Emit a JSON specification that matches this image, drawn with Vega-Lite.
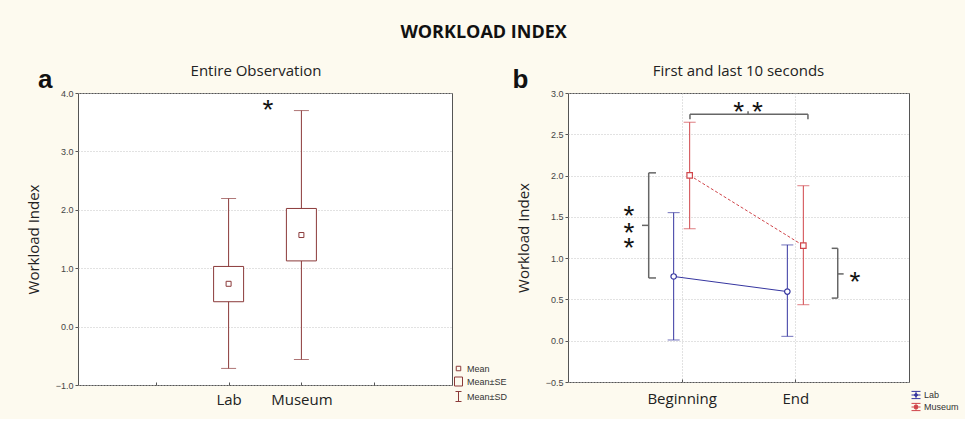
{
  "$schema": "https://vega.github.io/schema/vega-lite/v6.json",
  "background": "#fdfaef",
  "padding": {"left": 25, "top": 24, "right": 5, "bottom": 5},
  "title": {"text": "WORKLOAD INDEX", "font": "Open Sans", "fontSize": 18, "fontWeight": "bold", "color": "#111", "anchor": "middle", "offset": 21, "dx": -9},
  "bounds": "flush",
  "spacing": 116,
  "resolve": {"scale": {"x": "independent", "y": "independent", "color": "independent", "shape": "independent"}, "legend": {"color": "independent", "shape": "independent"}},
  "config": {
    "view": {"fill": "white", "stroke": "#555", "strokeWidth": 1},
    "title": {"font": "Open Sans", "fontSize": 15, "fontWeight": "normal", "color": "#222"},
    "axis": {"labelFont": "Liberation Sans", "labelFontSize": 9, "labelColor": "#444", "labelOverlap": false, "titleFont": "Open Sans", "titleFontSize": 15, "titleFontWeight": "normal", "titleColor": "#222", "domain": false, "tickColor": "#555", "gridColor": "#c4c4c4", "gridDash": [1, 2]}
  },
  "hconcat": [
    {
      "width": 374,
      "height": 292,
      "title": {"text": "Entire Observation", "anchor": "middle", "offset": -12, "dx": -9},
      "data": {"values": [
        {"group": "Lab", "pos": 2, "mean": 0.733, "seLo": 0.426, "seHi": 1.03, "sdLo": -0.716, "sdHi": 2.193},
        {"group": "Museum", "pos": 3, "mean": 1.568, "seLo": 1.125, "seHi": 2.023, "sdLo": -0.563, "sdHi": 3.699}
      ]},
      "layer": [
        {
          "mark": {"type": "rule", "color": "#8b3a3a", "strokeWidth": 1},
          "encoding": {
            "x": {"field": "pos", "type": "quantitative", "scale": {"domain": [0, 5], "nice": false},
                  "axis": {"values": [1, 2, 3, 4], "labelExpr": "datum.value == 2 ? 'Lab' : datum.value == 3 ? 'Museum' : ''", "labelFont": "Open Sans", "labelFontSize": 15, "labelColor": "#222", "title": null, "grid": false, "tickSize": -3, "labelPadding": 10}},
            "y": {"field": "sdLo", "type": "quantitative", "scale": {"domain": [-1, 4], "nice": false},
                  "axis": {"values": [-1, -0.5, 0, 0.5, 1, 1.5, 2, 2.5, 3, 3.5, 4], "format": ".1f", "labelOverlap": false, "title": "Workload Index", "grid": true, "tickSize": 3, "labelPadding": 2, "titlePadding": 14}},
            "y2": {"field": "sdHi"}
          }
        },
        {
          "mark": {"type": "tick", "orient": "horizontal", "size": 15, "thickness": 1, "color": "#8b3a3a"},
          "encoding": {"x": {"field": "pos", "type": "quantitative"}, "y": {"field": "sdHi", "type": "quantitative"}}
        },
        {
          "mark": {"type": "tick", "orient": "horizontal", "size": 15, "thickness": 1, "color": "#8b3a3a"},
          "encoding": {"x": {"field": "pos", "type": "quantitative"}, "y": {"field": "sdLo", "type": "quantitative"}}
        },
        {
          "mark": {"type": "bar", "width": 30, "fill": "white", "stroke": "#8b3a3a", "strokeWidth": 1},
          "encoding": {"x": {"field": "pos", "type": "quantitative"}, "y": {"field": "seLo", "type": "quantitative"}, "y2": {"field": "seHi"}}
        },
        {
          "mark": {"type": "point", "filled": false, "color": "#8b3a3a", "strokeWidth": 1, "size": 123, "opacity": 1},
          "encoding": {
            "x": {"field": "pos", "type": "quantitative"},
            "y": {"field": "mean", "type": "quantitative"},
            "shape": {"datum": "Mean", "type": "nominal",
                      "scale": {"domain": ["Mean", "Mean±SE", "Mean±SD"], "range": ["M-0.45,-0.45H0.45V0.45H-0.45Z", "M-0.8,-0.9H0.8V0.9H-0.8Z", "M0,-1V1M-0.6,-1H0.6M-0.6,1H0.6"]},
                      "legend": {"orient": "none", "legendX": 375, "legendY": 270, "title": null, "symbolSize": 100, "symbolStrokeColor": "#8b3a3a", "symbolStrokeWidth": 1, "labelFont": "Liberation Sans", "labelFontSize": 9, "labelColor": "#333", "rowPadding": 1, "labelOffset": 3}}
          }
        },
        {
          "data": {"values": [{"label": "*", "x": 2.54, "y": 3.55}]},
          "mark": {"type": "text", "font": "Liberation Sans", "fontSize": 28, "baseline": "alphabetic", "align": "center", "color": "#111"},
          "encoding": {
            "x": {"field": "x", "type": "quantitative"},
            "y": {"field": "y", "type": "quantitative"},
            "text": {"field": "label"}
          }
        },
        {
          "data": {"values": [{"label": "a", "x": -0.52, "y": 4.086}]},
          "mark": {"type": "text", "font": "Liberation Sans", "fontSize": 26, "fontWeight": "bold", "baseline": "alphabetic", "align": "center", "color": "#111"},
          "encoding": {
            "x": {"field": "x", "type": "quantitative"},
            "y": {"field": "y", "type": "quantitative"},
            "text": {"field": "label"}
          }
        }
      ]
    },
    {
      "width": 341,
      "height": 289,
      "title": {"text": "First and last 10 seconds", "anchor": "middle", "offset": -12},
      "layer": [
        {
          "data": {"values": [
            {"group": "Lab", "phase": "Beginning", "t": 1, "mean": 0.778, "sdLo": 0.009, "sdHi": 1.551},
            {"group": "Lab", "phase": "End", "t": 2, "mean": 0.595, "sdLo": 0.053, "sdHi": 1.16},
            {"group": "Museum", "phase": "Beginning", "t": 1, "mean": 2.003, "sdLo": 1.356, "sdHi": 2.646},
            {"group": "Museum", "phase": "End", "t": 2, "mean": 1.152, "sdLo": 0.436, "sdHi": 1.877}
          ]},
          "layer": [
            {
              "transform": [{"filter": "datum.group === 'Lab'"}],
              "layer": [
                {
                  "mark": {"type": "line", "strokeWidth": 1, "xOffset": -8},
                  "encoding": {
                    "x": {"field": "t", "type": "quantitative", "scale": {"domain": [0, 3], "nice": false},
                          "axis": {"values": [1, 2], "labelExpr": "datum.value == 1 ? 'Beginning' : 'End'", "labelFont": "Open Sans", "labelFontSize": 15, "labelColor": "#222", "title": null, "grid": true, "tickSize": -3, "labelPadding": 12}},
                    "y": {"field": "mean", "type": "quantitative", "scale": {"domain": [-0.5, 3], "nice": false},
                          "axis": {"values": [-0.5, 0, 0.5, 1, 1.5, 2, 2.5, 3], "format": ".1f", "labelOverlap": false, "title": "Workload Index", "grid": true, "tickSize": 3, "labelPadding": 2, "titlePadding": 14}},
                    "color": {"field": "group", "type": "nominal", "scale": {"domain": ["Lab", "Museum"], "range": ["#3636a0", "#d0454a"]},
                              "legend": {"orient": "none", "legendX": 343, "legendY": 297, "title": null, "symbolSize": 81, "symbolStrokeWidth": 1, "labelFont": "Liberation Sans", "labelFontSize": 9, "labelColor": "#333", "rowPadding": 0, "labelOffset": 3,
                                         "encode": {"symbols": {"update": {"shape": {"signal": "datum.value === 'Lab' ? 'M-1,-0.8H1M-1,0.8H1M0,-0.8V-0.35M0,0.35V0.8M-1,0H-0.35M0.35,0H1M-0.35,0A0.35,0.35 0 1,1 0.35,0A0.35,0.35 0 1,1 -0.35,0' : 'M-1,-0.8H1M-1,0.8H1M0,-0.8V-0.35M0,0.35V0.8M-1,0H-0.35M0.35,0H1M-0.35,-0.35H0.35V0.35H-0.35Z'"}, "fill": {"value": "transparent"}}}}}}
                  }
                },
                {
                  "mark": {"type": "rule", "strokeWidth": 1, "xOffset": -8},
                  "encoding": {"x": {"field": "t", "type": "quantitative"}, "y": {"field": "sdLo", "type": "quantitative"}, "y2": {"field": "sdHi"}, "color": {"field": "group", "type": "nominal"}}
                },
                {
                  "mark": {"type": "tick", "orient": "horizontal", "size": 12, "thickness": 1, "xOffset": -8},
                  "encoding": {"x": {"field": "t", "type": "quantitative"}, "y": {"field": "sdHi", "type": "quantitative"}, "color": {"field": "group", "type": "nominal"}}
                },
                {
                  "mark": {"type": "tick", "orient": "horizontal", "size": 12, "thickness": 1, "xOffset": -8},
                  "encoding": {"x": {"field": "t", "type": "quantitative"}, "y": {"field": "sdLo", "type": "quantitative"}, "color": {"field": "group", "type": "nominal"}}
                },
                {
                  "mark": {"type": "point", "shape": "circle", "filled": false, "fill": "white", "strokeWidth": 1.2, "size": 30, "opacity": 1, "xOffset": -8},
                  "encoding": {"x": {"field": "t", "type": "quantitative"}, "y": {"field": "mean", "type": "quantitative"}, "color": {"field": "group", "type": "nominal"}}
                }
              ]
            },
            {
              "transform": [{"filter": "datum.group === 'Museum'"}],
              "layer": [
                {
                  "mark": {"type": "line", "strokeWidth": 1, "strokeDash": [3, 2], "xOffset": 8},
                  "encoding": {"x": {"field": "t", "type": "quantitative"}, "y": {"field": "mean", "type": "quantitative"}, "color": {"field": "group", "type": "nominal"}}
                },
                {
                  "mark": {"type": "rule", "strokeWidth": 1, "xOffset": 8},
                  "encoding": {"x": {"field": "t", "type": "quantitative"}, "y": {"field": "sdLo", "type": "quantitative"}, "y2": {"field": "sdHi"}, "color": {"field": "group", "type": "nominal"}}
                },
                {
                  "mark": {"type": "tick", "orient": "horizontal", "size": 12, "thickness": 1, "xOffset": 8},
                  "encoding": {"x": {"field": "t", "type": "quantitative"}, "y": {"field": "sdHi", "type": "quantitative"}, "color": {"field": "group", "type": "nominal"}}
                },
                {
                  "mark": {"type": "tick", "orient": "horizontal", "size": 12, "thickness": 1, "xOffset": 8},
                  "encoding": {"x": {"field": "t", "type": "quantitative"}, "y": {"field": "sdLo", "type": "quantitative"}, "color": {"field": "group", "type": "nominal"}}
                },
                {
                  "mark": {"type": "point", "shape": "square", "filled": false, "fill": "white", "strokeWidth": 1.2, "size": 30, "opacity": 1, "xOffset": 8},
                  "encoding": {"x": {"field": "t", "type": "quantitative"}, "y": {"field": "mean", "type": "quantitative"}, "color": {"field": "group", "type": "nominal"}}
                }
              ]
            }
          ]
        },
        {
          "data": {"values": [
            {"x": 1.073, "y": 2.682, "x2": 1.073, "y2": 2.743},
            {"x": 1.073, "y": 2.743, "x2": 2.111, "y2": 2.743},
            {"x": 2.111, "y": 2.743, "x2": 2.111, "y2": 2.682},
            {"x": 1.584, "y": 2.743, "x2": 1.584, "y2": 2.78},
            {"x": 0.774, "y": 2.033, "x2": 0.71, "y2": 2.033},
            {"x": 0.71, "y": 2.033, "x2": 0.71, "y2": 0.76},
            {"x": 0.71, "y": 0.76, "x2": 0.774, "y2": 0.76},
            {"x": 0.71, "y": 1.397, "x2": 0.651, "y2": 1.397},
            {"x": 2.32, "y": 1.119, "x2": 2.373, "y2": 1.119},
            {"x": 2.373, "y": 1.119, "x2": 2.373, "y2": 0.516},
            {"x": 2.373, "y": 0.516, "x2": 2.32, "y2": 0.516},
            {"x": 2.373, "y": 0.809, "x2": 2.425, "y2": 0.809}
          ]},
          "mark": {"type": "rule", "color": "#666", "strokeWidth": 1.5},
          "encoding": {
            "x": {"field": "x", "type": "quantitative"},
            "y": {"field": "y", "type": "quantitative"},
            "x2": {"field": "x2"},
            "y2": {"field": "y2"}
          }
        },
        {
          "data": {"values": [
            {"label": "* *", "x": 1.584, "y": 2.658},
            {"label": "*", "x": 0.537, "y": 1.397},
            {"label": "*", "x": 0.537, "y": 1.201},
            {"label": "*", "x": 0.537, "y": 1.017},
            {"label": "*", "x": 2.525, "y": 0.601}
          ]},
          "mark": {"type": "text", "font": "Liberation Sans", "fontSize": 28, "baseline": "alphabetic", "align": "center", "color": "#111"},
          "encoding": {
            "x": {"field": "x", "type": "quantitative"},
            "y": {"field": "y", "type": "quantitative"},
            "text": {"field": "label"}
          }
        },
        {
          "data": {"values": [{"label": "b", "x": -0.418, "y": 3.06}]},
          "mark": {"type": "text", "font": "Liberation Sans", "fontSize": 26, "fontWeight": "bold", "baseline": "alphabetic", "align": "center", "color": "#111"},
          "encoding": {
            "x": {"field": "x", "type": "quantitative"},
            "y": {"field": "y", "type": "quantitative"},
            "text": {"field": "label"}
          }
        }
      ]
    }
  ]
}
